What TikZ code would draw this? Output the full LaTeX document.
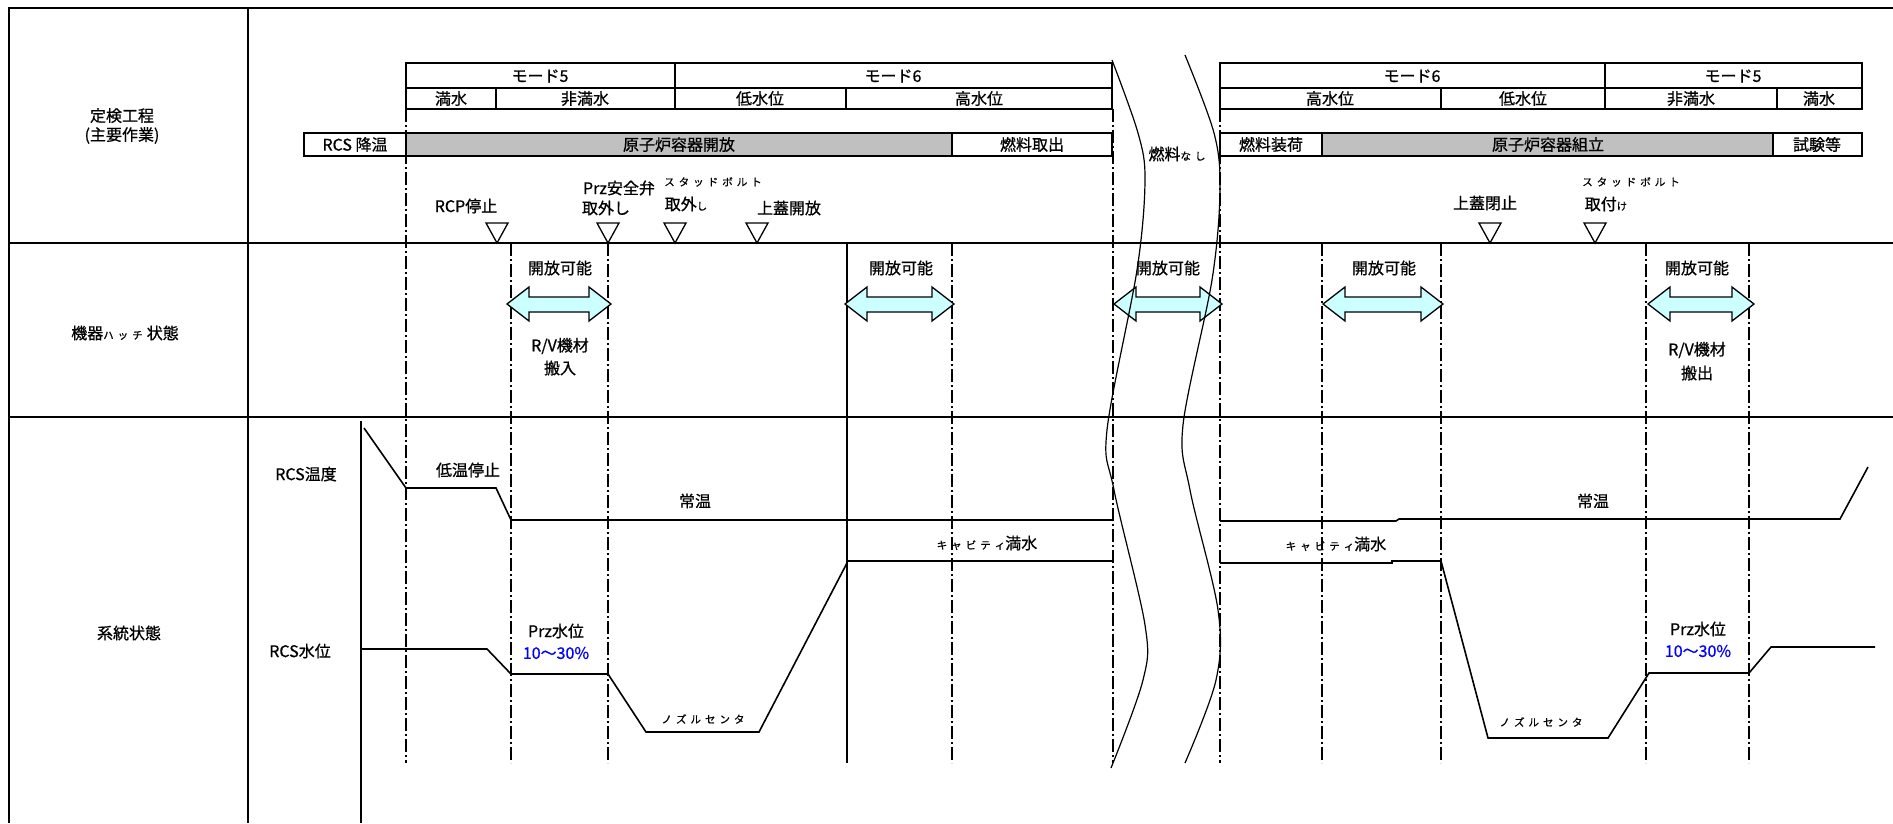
\documentclass[tikz,border=0pt]{standalone}
\usepackage{fontspec}
\setmainfont{Noto Sans CJK JP}[FakeBold=0.8]
\definecolor{grayfill}{HTML}{C0C0C0}
\definecolor{cyanfill}{HTML}{CCFFFF}
\definecolor{pctblue}{HTML}{0000FF}
\newcommand{\gp}{\hspace{4pt}}
\newcommand{\smf}{\fontsize{10.5}{12}\selectfont}
\tikzset{
  every node/.style={inner sep=0pt, font=\fontsize{16}{19}\selectfont},
  frame/.style={line width=1.7pt},
  dd/.style={line width=1.2pt, dash pattern=on 13pt off 3pt on 2pt off 3pt},
  curve/.style={line width=1.6pt, line join=miter},
  tri/.style={line width=1.3pt, line join=miter},
  harrow/.style={line width=1.3pt, fill=cyanfill, line join=miter},
  wave/.style={line width=1.2pt},
  sm/.style={font=\smf},
  pct/.style={text=pctblue}
}
\begin{document}
\begin{tikzpicture}[x=1pt,y=-1pt]
\useasboundingbox (0,0) rectangle (1893,823);

% outer frame and rows
\draw[frame] (1893,8) -- (9,8) -- (9,823);
\draw[frame] (248,8) -- (248,823);
\draw[frame] (9,243) -- (1893,243);
\draw[frame] (9,417) -- (1893,417);
\draw[frame] (361,421) -- (361,823);

% left mode table
\draw[frame] (406,63) rectangle (1112,109);
\draw[frame] (406,88) -- (1112,88);
\draw[frame] (675,63) -- (675,109);
\draw[frame] (496,88) -- (496,109);
\draw[frame] (846,88) -- (846,109);
% left work bar
\draw[frame] (304,133) rectangle (406,156);
\draw[frame, fill=grayfill] (406,133) rectangle (952,156);
\draw[frame] (952,133) rectangle (1112,156);

% right mode table
\draw[frame] (1220,63) rectangle (1862,109);
\draw[frame] (1220,88) -- (1862,88);
\draw[frame] (1605,63) -- (1605,109);
\draw[frame] (1441,88) -- (1441,109);
\draw[frame] (1777,88) -- (1777,109);
% right work bar
\draw[frame] (1220,133) rectangle (1322,156);
\draw[frame, fill=grayfill] (1322,133) rectangle (1773,156);
\draw[frame] (1773,133) rectangle (1862,156);

% dash-dot verticals
\foreach \x in {406,1113,1220} \draw[dd] (\x,109) -- (\x,763);
\foreach \x in {511,608,952,1322,1441,1646,1749} \draw[dd] (\x,243) -- (\x,763);
\draw[frame] (847,243) -- (847,763);

% milestone triangles
\foreach \x in {497,608,675,757,1490,1595}
  \draw[tri, fill=white] ({\x-11},223) -- ({\x+11},223) -- (\x,243) -- cycle;

% hatch double arrows
\foreach \a/\b in {507/611, 845/954, 1114/1222, 1323/1443, 1648/1754}
  \filldraw[harrow] (\a,304) -- ++(22,-17) -- ++(0,10) -- ({\b-22},297) -- ++(0,-10)
    -- (\b,304) -- ++(-22,17) -- ++(0,-9) -- ({\a+22},312) -- ++(0,9) -- cycle;

% system curves
\draw[curve] (364,428) -- (406,488) -- (496,488) -- (511,520) -- (1113,520);
\draw[curve] (1220,521) -- (1396,521) -- (1399,519) -- (1840,519) -- (1868,467);
\draw[curve] (361,649) -- (487,649) -- (511,674) -- (608,674) -- (646,732) -- (759,732) -- (847,563);
\draw[curve] (847,561) -- (1113,561);
\draw[curve] (1220,563) -- (1392,563) -- (1392,561) -- (1441,561) -- (1488,738) -- (1608,738)
  -- (1649,673) -- (1749,673) -- (1771,647) -- (1875,647);

% break (wavy) lines
\draw[wave] plot[smooth, tension=0.55] coordinates {(1112,60) (1138,133) (1145,180) (1137,270) (1107,430) (1114,490) (1145,625) (1143,680) (1111,768)};
\draw[wave] plot[smooth, tension=0.55] coordinates {(1185,55) (1214,133) (1220,190) (1212,280) (1183,425) (1190,490) (1218,610) (1216,680) (1185,763)};

% row labels
\node[align=center] (kotei) at (122,126) {定検工程\\(主要作業)};
\node (hatch) at (125,333) {機器{\smf ハ\gp ッ\gp チ}\gp 状態};
\node (keito) at (129,633) {系統状態};

% mode table texts
\node (m5a) at (540,76) {モード5};
\node (m6a) at (893,76) {モード6};
\node (w1) at (451,98.5) {満水};
\node (w2) at (585,98.5) {非満水};
\node (w3) at (760,98.5) {低水位};
\node (w4) at (979,98.5) {高水位};
\node (m6b) at (1412,76) {モード6};
\node (m5b) at (1733,76) {モード5};
\node (w5) at (1330,98.5) {高水位};
\node (w6) at (1523,98.5) {低水位};
\node (w7) at (1691,98.5) {非満水};
\node (w8) at (1819,98.5) {満水};

% work bar texts
\node (b1) at (355,144.5) {RCS 降温};
\node (b2) at (679,144.5) {原子炉容器開放};
\node (b3) at (1032,144.5) {燃料取出};
\node (b4) at (1271,144.5) {燃料装荷};
\node (b5) at (1548,144.5) {原子炉容器組立};
\node (b6) at (1817,144.5) {試験等};
\node[fill=white, inner sep=1.5pt] (nofuel) at (1177,154) {燃料{\smf な\gp し}};

% milestone texts
\node (rcp) at (466,206) {RCP停止};
\node (prz1) at (619,188) {Prz安全弁};
\node (prz2) at (606,208) {取外し};
\node[sm] (stud1) at (713,182) {ス\gp タ\gp ッ\gp ド\gp ボ\gp ル\gp ト};
\node (stud2) at (686,204) {取外{\smf し}};
\node (lid1) at (789,208) {上蓋開放};
\node (lid2) at (1485,203) {上蓋閉止};
\node[sm] (stud3) at (1631,182) {ス\gp タ\gp ッ\gp ド\gp ボ\gp ル\gp ト};
\node (stud4) at (1606,204) {取付{\smf け}};

% hatch texts
\node (op1) at (560,268) {開放可能};
\node (op2) at (901,268) {開放可能};
\node (op3) at (1168,268) {開放可能};
\node (op4) at (1384,268) {開放可能};
\node (op5) at (1697,268) {開放可能};
\node (rv1) at (560,346) {R/V機材};
\node (rv1b) at (560,368) {搬入};
\node (rv2) at (1697,350) {R/V機材};
\node (rv2b) at (1697,373) {搬出};

% system texts
\node (rcst) at (306,474) {RCS温度};
\node (rcsl) at (300,651) {RCS水位};
\node (teion) at (468,470) {低温停止};
\node (jo1) at (695,501) {常温};
\node (jo2) at (1593,501) {常温};
\node (cav1) at (987,543) {{\smf キ\gp ャ\gp ビ\gp テ\gp ィ}満水};
\node (cav2) at (1336,544) {{\smf キ\gp ャ\gp ビ\gp テ\gp ィ}満水};
\node[sm] (noz1) at (703,719) {ノ\gp ズ\gp ル\gp セ\gp ン\gp タ};
\node[sm] (noz2) at (1541,722) {ノ\gp ズ\gp ル\gp セ\gp ン\gp タ};
\node (prza) at (556,631) {Prz水位};
\node[pct] (pcta) at (556,653) {10～30\%};
\node (przb) at (1698,629) {Prz水位};
\node[pct] (pctb) at (1698,651) {10～30\%};
\end{tikzpicture}
\end{document}
